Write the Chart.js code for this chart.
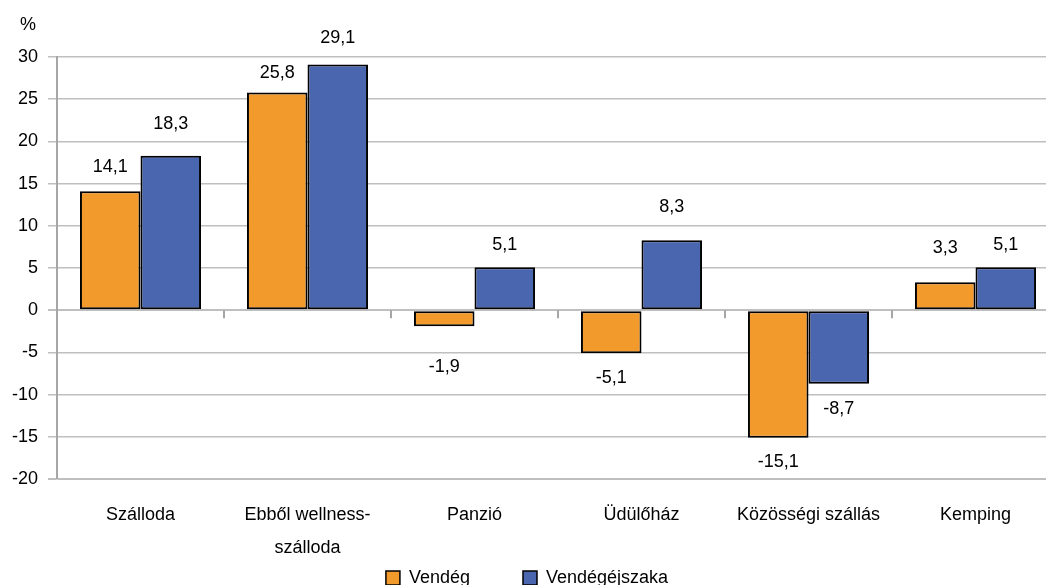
<!DOCTYPE html>
<html><head><meta charset="utf-8">
<script src="https://cdn.jsdelivr.net/npm/chart.js@4"></script>
<style>
html,body{margin:0;padding:0;background:#fff;overflow:hidden;width:1046px;height:585px;}
#wrap{width:1062px;height:585px;}
</style></head>
<body><div id="wrap"><canvas id="c" width="1062" height="585"></canvas></div>
<script>
const categories = [["Szálloda"], ["Ebből wellness-", "szálloda"], ["Panzió"], ["Üdülőház"], ["Közösségi szállás"], ["Kemping"]];
const vendeg = [14.1, 25.8, -1.9, -5.1, -15.1, 3.3];
const vendegejszaka = [18.3, 29.1, 5.1, 8.3, -8.7, 5.1];
const yTicks = [30, 25, 20, 15, 10, 5, 0, -5, -10, -15, -20];
const seriesNames = ["Vendég", "Vendégéjszaka"];

const FONT = "'Liberation Sans', Arial, sans-serif";

const extras = {
  id: 'extras',
  afterDraw(chart) {
    const ctx = chart.ctx;
    const x = chart.scales.x, y = chart.scales.y;
    const y0 = y.getPixelForValue(0);
    const o = chart.options.plugins.extras;
    ctx.save();
    // category separator ticks on the zero line
    ctx.strokeStyle = '#a6a6a6';
    ctx.lineWidth = 2;
    for (let i = 1; i < categories.length; i++) {
      const px = Math.round((x.getPixelForValue(i - 1) + x.getPixelForValue(i)) / 2);
      ctx.beginPath(); ctx.moveTo(px, y0); ctx.lineTo(px, y0 + 8); ctx.stroke();
    }
    // data labels
    ctx.fillStyle = '#000';
    ctx.font = '18px ' + FONT;
    ctx.textAlign = 'center';
    ctx.textBaseline = 'middle';
    chart.data.datasets.forEach((ds, di) => {
      chart.getDatasetMeta(di).data.forEach((bar, i) => {
        const v = ds.data[i];
        const off = 23 + o.nudges[di][i];
        const ty = v >= 0 ? bar.y - off : bar.y + off;
        ctx.fillText(String(v).replace('.', ','), bar.x, ty);
      });
    });
    // unit
    ctx.textAlign = 'left';
    ctx.fillText('%', 20, 25);
    // legend
    const box = 14, gapText = 9, gapItem = 53;
    const items = chart.data.datasets.map(ds => ({ text: ds.label, color: ds.backgroundColor, w: ctx.measureText(ds.label).width }));
    const total = items.reduce((s, it) => s + box + gapText + it.w, 0) + gapItem * (items.length - 1);
    let lx = (chart.width - total) / 2 - 4;
    const ly = o.legendY;
    items.forEach(it => {
      ctx.fillStyle = it.color;
      ctx.fillRect(lx, ly - box / 2, box, box);
      ctx.strokeStyle = '#000';
      ctx.lineWidth = 1.5;
      ctx.strokeRect(lx, ly - box / 2, box, box);
      ctx.fillStyle = '#000';
      ctx.fillText(it.text, lx + box + gapText, ly);
      lx += box + gapText + it.w + gapItem;
    });
    ctx.restore();
  }
};

new Chart(document.getElementById('c'), {
  type: 'bar',
  data: {
    labels: categories,
    datasets: [
      { label: seriesNames[0], data: vendeg, backgroundColor: '#F39A2D', borderColor: '#000', borderWidth: 2, borderSkipped: false },
      { label: seriesNames[1], data: vendegejszaka, backgroundColor: '#4A66AE', borderColor: '#000', borderWidth: 2, borderSkipped: false }
    ]
  },
  options: {
    responsive: false,
    animation: false,
    events: [],
    datasets: { bar: { categoryPercentage: 0.725, barPercentage: 1.0 } },
    layout: { padding: { top: 57, right: 3, left: 0, bottom: 0 } },
    scales: {
      x: {
        afterFit(s) { s.height = 106; },
        grid: { display: false, drawTicks: false },
        border: { display: false },
        ticks: { color: '#000', font: { family: FONT, size: 18, lineHeight: 1.83 }, padding: 19.5, maxRotation: 0, autoSkip: false }
      },
      y: {
        min: -20, max: 30,
        afterFit(s) { s.width = 57; },
        afterBuildTicks(s) { s.ticks = yTicks.map(v => ({ value: v })); },
        grid: { color: '#bfbfbf', lineWidth: c => (c.tick && (c.tick.value === 0 || c.tick.value === -20)) ? 2 : 1.5, tickLength: 9, drawTicks: true, tickColor: '#bfbfbf' },
        border: { display: true, color: '#a6a6a6', width: 2 },
        ticks: { color: '#000', font: { family: FONT, size: 18 }, padding: 10, callback: v => String(v) }
      }
    },
    plugins: {
      legend: { display: false },
      tooltip: { enabled: false },
      extras: { legendY: 578, nudges: [[1, -4, 18, 2, 1.5, 11], [9, 4, -1, 10, 2, -1]] }
    }
  },
  plugins: [extras]
});
</script></body></html>
